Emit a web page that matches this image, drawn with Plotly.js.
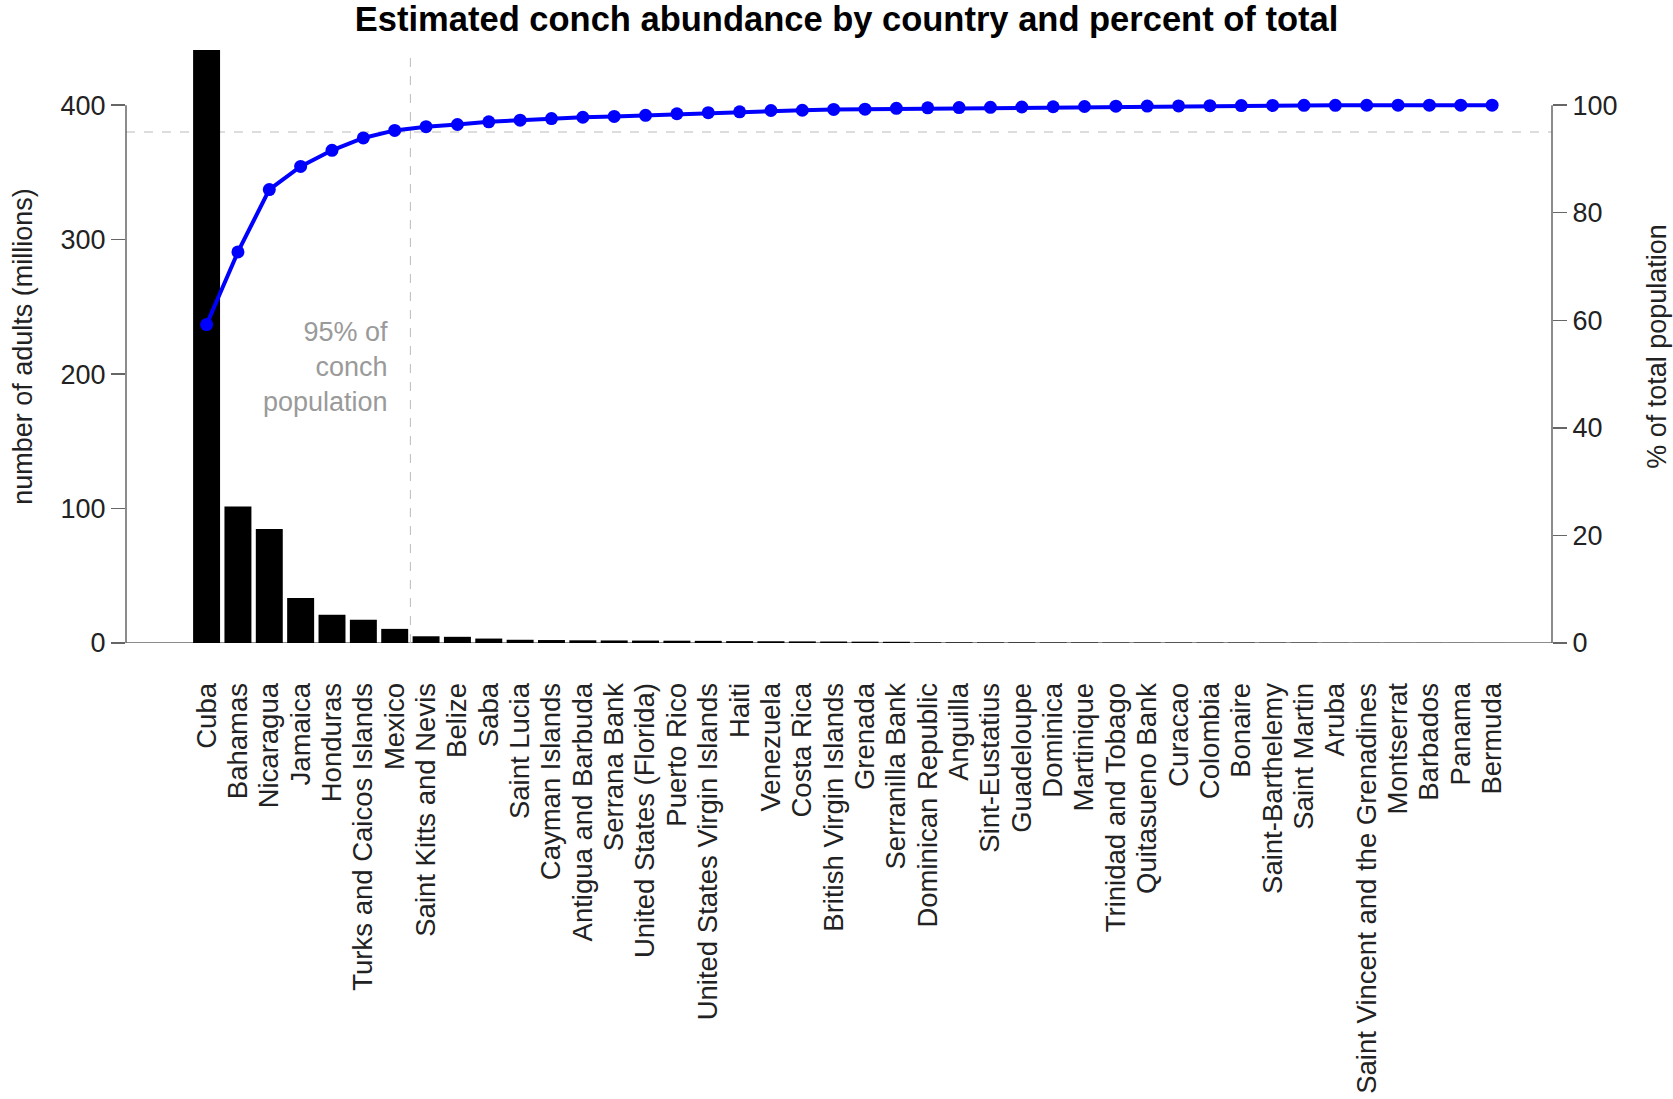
<!DOCTYPE html>
<html>
<head>
<meta charset="utf-8">
<script src="https://cdn.plot.ly/plotly-3.0.1.min.js"></script>
<style>
  html, body { margin: 0; padding: 0; background: #ffffff; }
  #chart { width: 1673px; height: 1099px; }
</style>
</head>
<body>
<div id="chart"></div>
<script>
// Countries, ordered from largest to smallest estimated adult conch abundance
const countries = [
  "Cuba", "Bahamas", "Nicaragua", "Jamaica", "Honduras", "Turks and Caicos Islands",
  "Mexico", "Saint Kitts and Nevis", "Belize", "Saba", "Saint Lucia", "Cayman Islands",
  "Antigua and Barbuda", "Serrana Bank", "United States (Florida)", "Puerto Rico",
  "United States Virgin Islands", "Haiti", "Venezuela", "Costa Rica",
  "British Virgin Islands", "Grenada", "Serranilla Bank", "Dominican Republic",
  "Anguilla", "Sint-Eustatius", "Guadeloupe", "Dominica", "Martinique",
  "Trinidad and Tobago", "Quitasueno Bank", "Curacao", "Colombia", "Bonaire",
  "Saint-Barthelemy", "Saint Martin", "Aruba", "Saint Vincent and the Grenadines",
  "Montserrat", "Barbados", "Panama", "Bermuda"
];

// Number of adult conch (millions)
const adultsMillions = [
  441, 101.6, 84.8, 33.5, 21.0, 17.3,
  10.5, 5.0, 4.6, 3.3, 2.4, 2.2,
  2.0, 1.9, 1.8, 1.7,
  1.6, 1.4, 1.3, 1.2,
  1.1, 1.0, 0.9, 0.5,
  0.45, 0.4, 0.4, 0.35, 0.35,
  0.3, 0.3, 0.3, 0.25, 0.25,
  0.2, 0.2, 0.1, 0.08,
  0.06, 0.05, 0.04, 0.03
];

// Cumulative share of the total population (%)
const cumulativePercent = [
  59.2, 72.7, 84.3, 88.6, 91.6, 93.9,
  95.3, 96.0, 96.4, 96.9, 97.2, 97.5,
  97.75, 97.9, 98.1, 98.4, 98.6, 98.75,
  99.0, 99.05, 99.2, 99.25, 99.4, 99.5,
  99.55, 99.6, 99.65, 99.7, 99.75, 99.8,
  99.83, 99.86, 99.89, 99.92, 99.94, 99.96,
  99.97, 99.98, 99.99, 99.99, 100, 100
];

// Axis ticks
const leftTicks = [0, 100, 200, 300, 400];
const rightTicks = [0, 20, 40, 60, 80, 100];
const threshold = 95;                 // percent marked by the dashed guide
const cutoffCountry = "Mexico";       // last country inside the 95% group

const FONT = "Liberation Sans, Arial, Helvetica, sans-serif";
const leftMax = adultsMillions[0];
const rightMax = leftMax * 100 / 400;   // 100 % lines up with 400 million
const cutoffX = countries.indexOf(cutoffCountry) + 0.5;

const bars = {
  type: "bar",
  x: countries,
  y: adultsMillions,
  marker: { color: "#000000", line: { width: 0 } },
  hoverinfo: "x+y",
  showlegend: false
};

const cumLine = {
  type: "scatter",
  mode: "lines+markers",
  x: countries,
  y: cumulativePercent,
  yaxis: "y2",
  line: { color: "#0000ff", width: 4 },
  marker: { color: "#0000ff", size: 13 },
  showlegend: false
};

const layout = {
  width: 1673,
  height: 1099,
  paper_bgcolor: "#ffffff",
  plot_bgcolor: "#ffffff",
  margin: { l: 126, r: 121, t: 50, b: 456, pad: 0 },
  font: { family: FONT, size: 27, color: "#222222" },
  title: {
    text: "<b>Estimated conch abundance by country and percent of total</b>",
    font: { family: FONT, size: 34.5, color: "#000000" },
    xref: "container", x: 0.506, xanchor: "center",
    yref: "container", y: 1 - 19 / 1099, yanchor: "middle"
  },
  bargap: 0.14,
  xaxis: {
    type: "category",
    range: [-2.57, 42.91],
    tickmode: "array",
    tickvals: countries,
    ticktext: countries,
    tickangle: -90,
    ticks: "outside",
    ticklen: 28,
    tickcolor: "rgba(0,0,0,0)",
    tickfont: { family: FONT, size: 27.5, color: "#222222" },
    showgrid: false,
    zeroline: false,
    showline: false,
    fixedrange: true
  },
  yaxis: {
    range: [0, leftMax],
    tickvals: leftTicks,
    ticktext: leftTicks.map(String),
    ticks: "outside",
    ticklen: 14,
    tickwidth: 1.5,
    tickcolor: "#666666",
    tickfont: { family: FONT, size: 27, color: "#222222" },
    showgrid: false,
    zeroline: false,
    showline: false,
    automargin: false,
    title: {
      text: "number of adults (millions)",
      font: { family: FONT, size: 27, color: "#222222" },
      standoff: 20
    },
    fixedrange: true
  },
  yaxis2: {
    overlaying: "y",
    side: "right",
    range: [0, rightMax],
    tickvals: rightTicks,
    ticktext: rightTicks.map(String),
    ticks: "outside",
    ticklen: 14,
    tickwidth: 1.5,
    tickcolor: "#666666",
    tickfont: { family: FONT, size: 27, color: "#222222" },
    showgrid: false,
    zeroline: false,
    showline: false,
    automargin: false,
    title: {
      text: "% of total population",
      font: { family: FONT, size: 27, color: "#222222" },
      standoff: 30
    },
    fixedrange: true
  },
  shapes: [
    // left axis spine (0 to 400)
    { type: "line", xref: "paper", yref: "y", x0: 0, x1: 0, y0: 0, y1: leftTicks[leftTicks.length - 1],
      line: { color: "#666666", width: 1.5 } },
    // right axis spine (0 to 100)
    { type: "line", xref: "paper", yref: "y2", x0: 1, x1: 1, y0: 0, y1: rightTicks[rightTicks.length - 1],
      line: { color: "#666666", width: 1.5 } },
    // baseline
    { type: "line", xref: "paper", yref: "y", x0: 0, x1: 1, y0: 0, y1: 0,
      line: { color: "#666666", width: 1.5 }, layer: "below" },
    // 95 % horizontal guide
    { type: "line", xref: "paper", yref: "y2", x0: 0, x1: 1, y0: threshold, y1: threshold,
      line: { color: "#bbbbbb", width: 1, dash: "dash" }, layer: "below" },
    // vertical guide after the last country in the 95 % group
    { type: "line", xref: "x", yref: "paper", x0: cutoffX, x1: cutoffX, y0: 0, y1: 1,
      line: { color: "#bbbbbb", width: 1, dash: "dash" }, layer: "below" }
  ],
  annotations: [
    {
      xref: "x", yref: "y", x: cutoffX, y: 205,
      xanchor: "right", yanchor: "middle", xshift: -20,
      align: "right", showarrow: false,
      text: "95% of<br>conch<br>population",
      font: { family: FONT, size: 27, color: "#9a9a9a" }
    }
  ]
};

Plotly.newPlot("chart", [bars, cumLine], layout, { displayModeBar: false, staticPlot: true });
</script>
</body>
</html>
